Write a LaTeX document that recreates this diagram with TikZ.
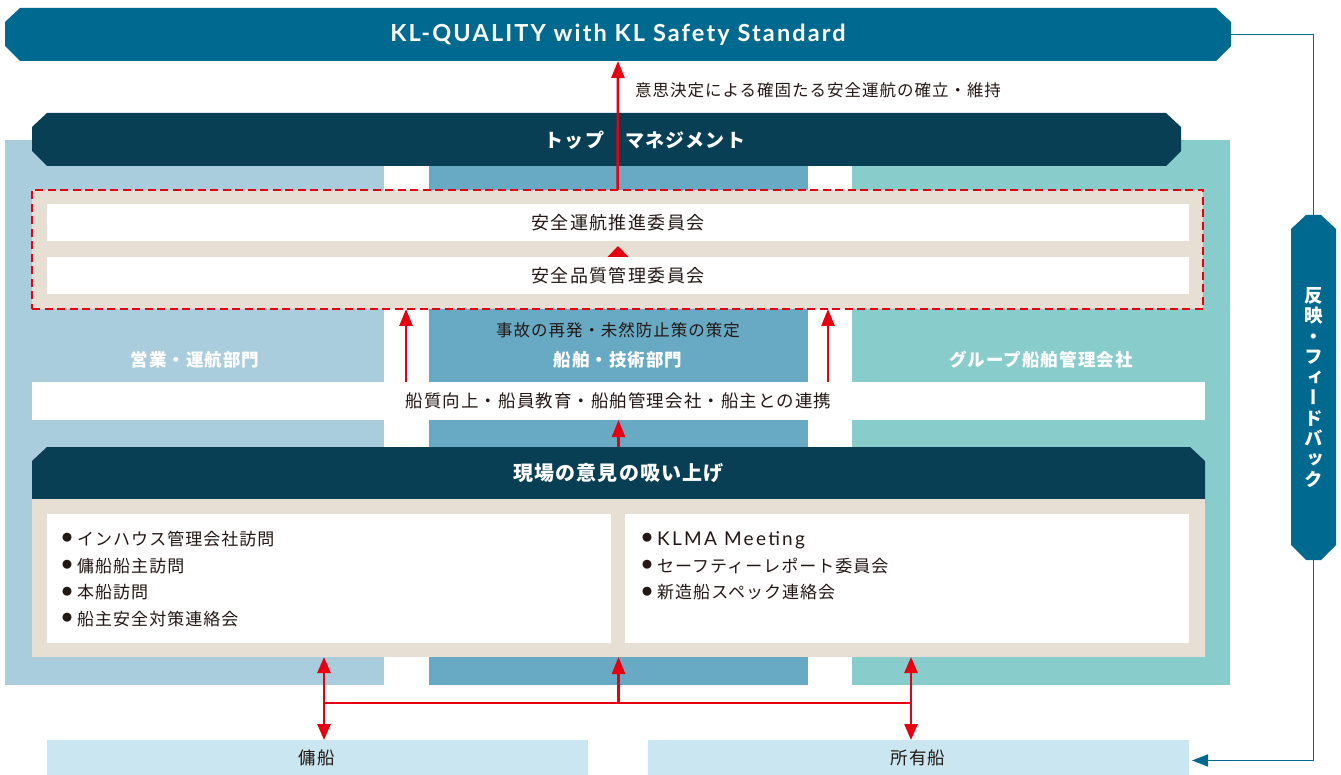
\documentclass[tikz,border=0pt]{standalone}
\usepackage{fontspec}
\setmainfont{Noto Sans CJK JP}[LetterSpace=6]
\newfontfamily\latinfont{Lato}[LetterSpace=6]
\newfontfamily\vertfont{Noto Sans CJK JP}[RawFeature=+vert]
\usetikzlibrary{arrows.meta}
\definecolor{klblue}{HTML}{00698F}
\definecolor{kldark}{HTML}{083F55}
\definecolor{opsblue}{HTML}{A9CDDC}
\definecolor{techblue}{HTML}{68A9C4}
\definecolor{groupteal}{HTML}{88CCCC}
\definecolor{sand}{HTML}{E8DFD4}
\definecolor{klred}{HTML}{E60012}
\definecolor{shipblue}{HTML}{C9E6F1}
\definecolor{ink}{HTML}{231815}
\newcommand{\setfs}[1]{\fontsize{#1}{#1}\selectfont}
\newcommand{\dotitem}{\raisebox{3.7pt}{\fontsize{10}{10}\selectfont●}\hspace{5pt}}
% box from (x1,y1) to (x2,y2): style, name, x1, y1, x2, y2, text
\newcommand{\slab}[7]{\node[#1, minimum width={#5-#3}, minimum height={#6-#4}] (#2) at ({(#3+#5)/2},{(#4+#6)/2}) {#7};}
% cut-corner plate: fill, bottom cut, style, name, x1, y1, x2, y2, text
\newcommand{\plate}[9]{
  \fill[#1] ({#5+15},#6) -- ({#7-15},#6) -- (#7,{#6+14}) -- (#7,{#8-#2}) -- ({#7-#2},#8)
    -- ({#5+#2},#8) -- (#5,{#8-#2}) -- (#5,{#6+14}) -- cycle;
  \slab{#3}{#4}{#5}{#6}{#7}{#8}{#9}}
\tikzset{
  slabbox/.style={inner sep=0pt, outer sep=0pt, draw=none},
  banner/.style={slabbox, text=white, font=\latinfont\bfseries\addfontfeature{LetterSpace=9}\setfs{23.5}},
  darkbar/.style={slabbox, text=white, font=\bfseries\setfs{19}},
  whitebar/.style={slabbox, fill=white, text=ink, font=\addfontfeature{LetterSpace=8}\setfs{18}},
  collabel/.style={inner sep=0pt, text=white, font=\bfseries\setfs{17.5}},
  plaintext/.style={inner sep=0pt, text=ink, font=\setfs{16.5}},
  listtext/.style={inner sep=0pt, text=ink, align=left, font=\fontsize{17}{26.7}\selectfont},
  redarrow/.style={draw=klred, line width=2.5pt, -{Triangle[width=13pt,length=17pt]}},
  feedline/.style={draw=klblue, line width=1.6pt}
}
\begin{document}
\begin{tikzpicture}[x=1pt,y=-1pt]
\useasboundingbox (0,0) rectangle (1341,775);
% columns
\slab{slabbox, fill=opsblue}{ops}{5}{140}{384}{685}{}
\slab{slabbox, fill=techblue}{tech}{429}{166}{808}{685}{}
\slab{slabbox, fill=groupteal}{group}{852}{140}{1230}{685}{}
% top banners
\plate{klblue}{15}{banner}{klq}{5}{8}{1231}{61}{KL-QUALITY with KL Safety Standard}
\plate{kldark}{15}{darkbar}{top}{32}{113}{1181}{166}{}
\node[inner sep=0pt, text=white, font=\bfseries\setfs{19}] (toptext) at (645,140) {トップ　マネジメント};
% committees
\slab{slabbox, fill=sand, draw=klred, line width=2.2pt, dash pattern=on 8pt off 4.5pt}{safety}{32}{190}{1203}{309}{}
\slab{whitebar}{promo}{47}{204}{1189}{241}{安全運航推進委員会}
\slab{whitebar}{quality}{47}{257}{1189}{294}{安全品質管理委員会}
% column labels
\node[plaintext] (prevent) at (618,330) {事故の再発・未然防止策の策定};
\node[collabel] (opslabel) at (195,360) {営業・運航部門};
\node[collabel] (techlabel) at (618,360) {船舶・技術部門};
\node[collabel] (grouplabel) at (1041,360) {グループ船舶管理会社};
\slab{whitebar, font=\setfs{17.5}}{liaison}{32}{382}{1205}{420}{船質向上・船員教育・船舶管理会社・船主との連携}
% field voice
\plate{kldark}{0}{darkbar, font=\bfseries\setfs{20}}{field}{32}{447}{1205}{499}{現場の意見の吸い上げ}
\slab{slabbox, fill=sand}{fieldbox}{32}{499}{1205}{657}{}
\slab{slabbox, fill=white}{visits}{47}{514}{611}{643}{}
\slab{slabbox, fill=white}{meetings}{625}{514}{1189}{643}{}
\node[listtext, anchor=west] (visitlist) at (62,579) {\dotitem インハウス管理会社訪問\\\dotitem 傭船船主訪問\\\dotitem 本船訪問\\\dotitem 船主安全対策連絡会};
\node[listtext, anchor=west] (meetlist) at (642,566) {\dotitem{\latinfont\addfontfeature{LetterSpace=12}\setfs{19}KLMA Meeting}\\\dotitem セーフティーレポート委員会\\\dotitem 新造船スペック連絡会};
% ships
\slab{slabbox, fill=shipblue}{charter}{47}{740}{588}{775}{}
\slab{slabbox, fill=shipblue}{owned}{648}{740}{1189}{775}{}
\node[plaintext, font=\setfs{17.5}] (chartertext) at (317,758) {傭船};
\node[plaintext, font=\setfs{17.5}] (ownedtext) at (918,758) {所有船};
% feedback
\plate{klblue}{15}{slabbox, text=white, align=center, font=\vertfont\bfseries\fontsize{18.5}{20.5}\selectfont}{feedback}{1291}{215}{1336}{560}{反\\映\\・\\フ\\ィ\\ー\\ド\\バ\\ッ\\ク}
\draw[feedline] (klq.east) -| (feedback.north);
\draw[feedline, -{Triangle[width=12pt,length=16pt]}, shorten >=3pt] (feedback.south) |- ([yshift=-3pt]owned.east);
% red arrows
\coordinate (gapL) at (406,0);
\coordinate (gapR) at (828,0);
\coordinate (legL) at (324,703);
\coordinate (legR) at (911,703);
\draw[redarrow] (safety.north) -- (klq.south);
\node[plaintext, anchor=west] (decision) at (635,90) {意思決定による確固たる安全運航の確立・維持};
\draw[redarrow, line width=0pt, shorten >=5pt, -{Triangle[width=21pt,length=11pt]}] (quality.north) -- (promo.south);
\draw[redarrow] (liaison.north -| gapL) -- (safety.south -| gapL);
\draw[redarrow] (liaison.north -| gapR) -- (safety.south -| gapR);
\draw[redarrow] (field.north) -- (liaison.south);
\draw[redarrow, {Triangle[width=13pt,length=16pt]}-{Triangle[width=13pt,length=16pt]}] (fieldbox.south -| legL) -- (charter.north -| legL);
\draw[redarrow, {Triangle[width=13pt,length=16pt]}-{Triangle[width=13pt,length=16pt]}] (fieldbox.south -| legR) -- (owned.north -| legR);
\draw[redarrow, -] (legL) -- (legR);
\draw[redarrow] (legL -| fieldbox.south) -- (fieldbox.south);
\end{tikzpicture}
\end{document}
